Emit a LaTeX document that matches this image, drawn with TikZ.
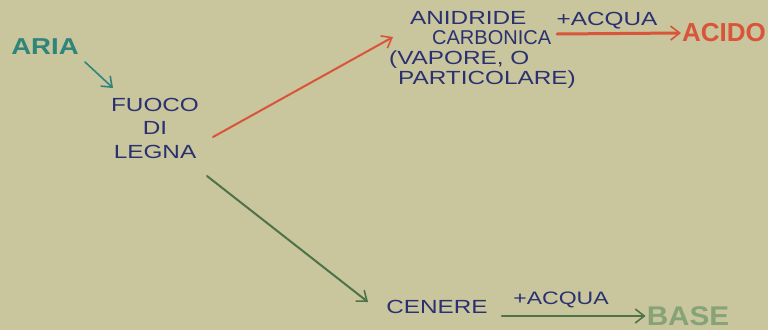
\documentclass[tikz,border=0pt]{standalone}
\usepackage{fontspec}
\setmainfont{Liberation Sans}
\newfontfamily\wide{Liberation Sans}[FakeStretch=1.28]
\newfontfamily\plainsans{Liberation Sans}
\newfontfamily\wideb{Liberation Sans Bold}[FakeStretch=1.2]
\newfontfamily\wideB{Liberation Sans Bold}[FakeStretch=1.1]
\usetikzlibrary{arrows.meta}
\definecolor{bg}{HTML}{C9C59D}
\definecolor{ink}{HTML}{2B3170}
\definecolor{redink}{HTML}{D8553A}
\definecolor{greenink}{HTML}{4E7348}
\definecolor{tealink}{HTML}{2E8579}
\definecolor{baseink}{HTML}{86A277}
\tikzset{
  lbl/.style={inner sep=1pt, align=center, font=\wide\fontsize{19}{22}\selectfont, text=ink},
  conn/.style={line width=2pt, line cap=round, -{Straight Barb[length=9pt,width=14pt,line width=1.6pt]}},
}
\begin{document}
\begin{tikzpicture}[x=1pt,y=-1pt]
\fill[bg] (0,0) rectangle (768,330);
\useasboundingbox (0,0) rectangle (768,330);
\node[lbl, text=tealink, font=\wideb\fontsize{23}{26}\selectfont] (aria) at (45,47) {ARIA};
\node[lbl, font=\wide\fontsize{19}{23.5}\selectfont] (fuoco) at (155,128) {FUOCO\\DI\\LEGNA};
\node[lbl, font=\wide\fontsize{19}{20}\selectfont, align=left, anchor=north west] (anidride) at (388,10) {\hspace*{21pt}ANIDRIDE\\\hspace*{43pt}{\plainsans\fontsize{20}{20}\selectfont CARBONICA}\\(VAPORE, O\\\hspace*{9pt}PARTICOLARE)};
\node[lbl] (acqua1) at (607,21) {+ACQUA};
\node[lbl, text=redink, font=\bfseries\fontsize{26}{28}\selectfont] (acido) at (724,33) {ACIDO};
\node[lbl] (cenere) at (437,307) {CENERE};
\node[lbl, font=\wide\fontsize{18}{20}\selectfont] (acqua2) at (561,300) {+ACQUA};
\node[lbl, text=baseink, font=\wideB\fontsize{27}{28}\selectfont] (base) at (688,316) {BASE};
\coordinate (redstart) at (213,137);
\coordinate (redend) at (393,37);
\coordinate (greenstart) at (207,176);
\coordinate (greenend) at (368,302);
\coordinate (a1s) at (557,34);
\coordinate (a2s) at (502,316);
\draw[conn, tealink, line width=1.6pt] (85,62) -- (113,88);
\draw[conn, redink] (redstart) -- (redend);
\draw[conn, greenink] (greenstart) -- (greenend);
\draw[conn, redink, line width=3pt] (a1s) -- (acido.west);
\draw[conn, greenink, line width=2.5pt] (a2s) -- (base.west);
\end{tikzpicture}
\end{document}
